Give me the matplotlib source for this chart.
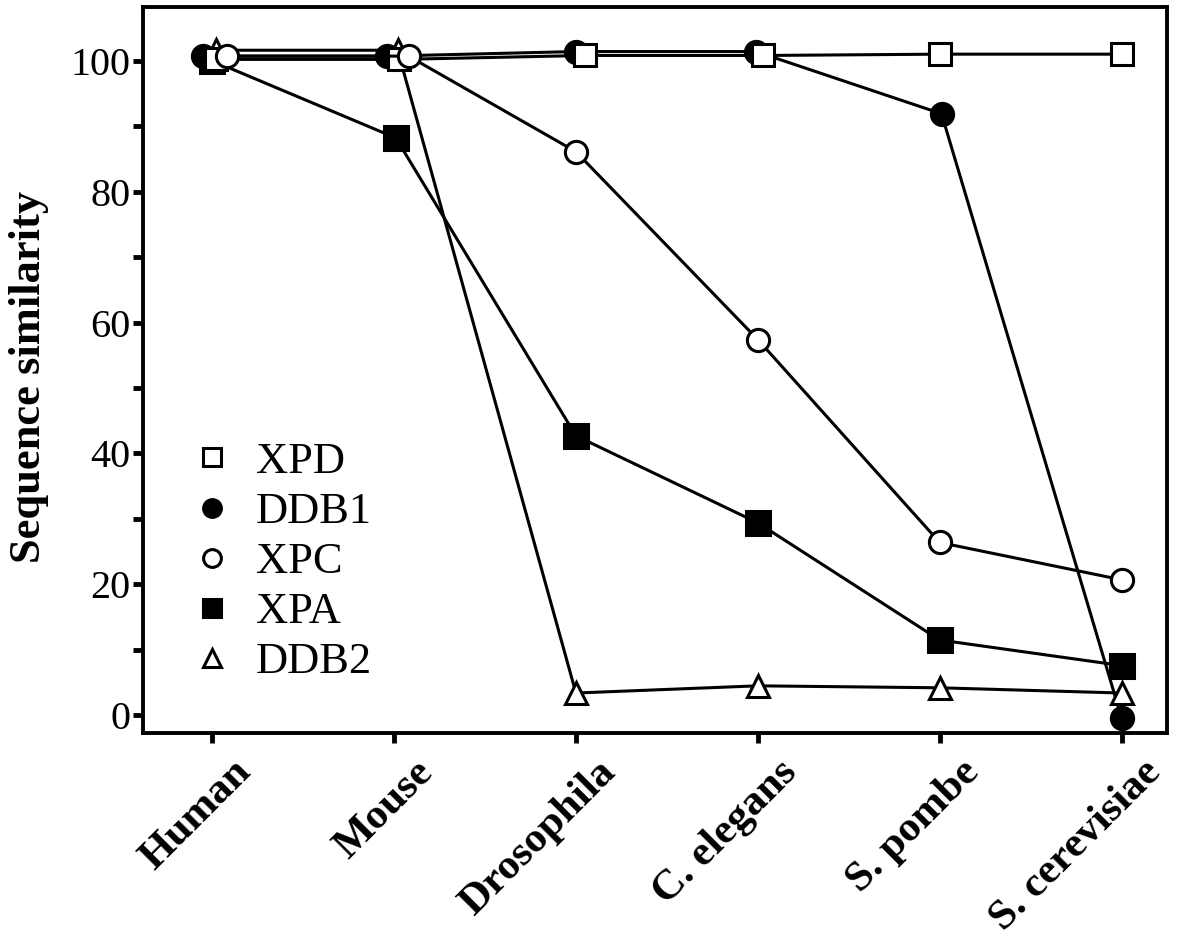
import matplotlib
matplotlib.use("Agg")
import matplotlib.pyplot as plt
from matplotlib.ticker import MultipleLocator
from matplotlib.transforms import ScaledTranslation

plt.rcParams["font.family"] = ["Liberation Serif", "DejaVu Serif"]

organisms = ["Human", "Mouse", "Drosophila", "C. elegans", "S. pombe", "S. cerevisiae"]

xpd = [100.2, 100.2, 100.8, 100.8, 101.0, 101.0]
ddb1 = [100.7, 100.7, 101.4, 101.4, 91.9, -0.4]
xpc = [100.7, 100.7, 86.1, 57.4, 26.4, 20.7]
xpa = [100.0, 88.2, 42.7, 29.4, 11.5, 7.6]
ddb2 = [101.6, 101.6, 3.4, 4.5, 4.2, 3.4]

# small horizontal nudges (category units) where the symbols pile up
nudge_xpd = [0.02, 0.03, 0.05, 0.03, 0.0, 0.0]
nudge_ddb1 = [-0.05, -0.04, 0.0, -0.01, 0.01, 0.0]
nudge_xpc = [0.08, 0.08, 0.0, 0.0, 0.0, 0.0]
nudge_xpa = [0.0, 0.01, 0.0, 0.0, 0.0, 0.0]
nudge_ddb2 = [0.02, 0.02, 0.0, 0.0, 0.0, 0.0]

fig = plt.figure(figsize=(11.78, 9.38), dpi=100)
ax = fig.add_axes([0.1214, 0.2186, 0.8693, 0.7739])

lw = 2.2
mew = 2.2


def xs(nudge):
    return [i + d for i, d in enumerate(nudge)]


# draw order so the overlapping symbols stack like the original
ax.plot(xs(nudge_xpa), xpa, color="black", lw=lw, marker="s", ms=17,
        mfc="black", mec="black", mew=mew, label="XPA", zorder=2)
ax.plot(xs(nudge_ddb1), ddb1, color="black", lw=lw, marker="o", ms=16,
        mfc="black", mec="black", mew=mew, label="DDB1", zorder=3)
ax.plot(xs(nudge_ddb2), ddb2, color="black", lw=lw, marker="^", ms=16,
        mfc="white", mec="black", mew=mew, label="DDB2", zorder=4)
ax.plot(xs(nudge_xpd), xpd, color="black", lw=lw, marker="s", ms=16,
        mfc="white", mec="black", mew=mew, label="XPD", zorder=5)
ax.plot(xs(nudge_xpc), xpc, color="black", lw=lw, marker="o", ms=16,
        mfc="white", mec="black", mew=mew, label="XPC", zorder=6)

ax.set_xlim(-0.38, 5.25)
ax.set_ylim(-2.7, 108.2)

ax.set_yticks([0, 20, 40, 60, 80, 100])
ax.yaxis.set_minor_locator(MultipleLocator(10))
ax.set_xticks(range(len(organisms)))
ax.set_xticklabels([])

# rotated category names, nudged right of the tick like the original
lab_tr = ax.get_xaxis_transform() + ScaledTranslation(0.2, -0.2, fig.dpi_scale_trans)
for i, name in enumerate(organisms):
    ax.text(i, 0, name, transform=lab_tr, rotation=45, ha="right", va="top",
            rotation_mode="anchor", fontweight="bold", fontsize=31)

ax.tick_params(axis="y", labelsize=29, length=7, width=3.5, direction="out", pad=2)
ax.tick_params(axis="y", which="minor", length=7, width=3.5)
ax.tick_params(axis="x", length=7, width=3.5, direction="out")

for s in ax.spines.values():
    s.set_linewidth(2.8)

ax.set_ylabel("Sequence similarity", fontsize=32, fontweight="bold")
ax.yaxis.set_label_coords(-0.092, 0.49)

h, l = ax.get_legend_handles_labels()
order = ["XPD", "DDB1", "XPC", "XPA", "DDB2"]
hd = dict(zip(l, h))
leg = ax.legend([hd[k] for k in order], order, loc="upper left",
                bbox_to_anchor=(0.015, 0.45), frameon=False, fontsize=32,
                handlelength=0.8, handletextpad=0.6, labelspacing=0.225,
                markerscale=0.8, borderpad=0.3)
for lh in leg.legend_handles:
    lh.set_linestyle("none")

fig.savefig("out.png", dpi=100)
